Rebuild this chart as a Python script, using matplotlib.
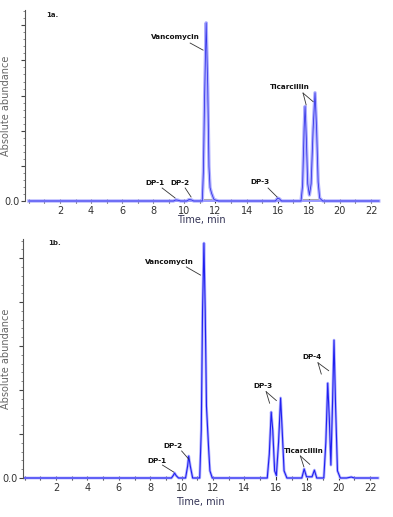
import matplotlib
matplotlib.use("Agg")
import matplotlib.pyplot as plt
from matplotlib.ticker import MultipleLocator, FixedLocator

# ---------------- data ----------------
# Panel 1a trace: time (min) and relative abundance
t_a = [0.0, 9.3, 9.45, 9.6, 9.75, 10.15, 10.3, 10.45, 10.6, 11.15, 11.22, 11.3,
       11.4, 11.5, 11.58, 11.65, 11.75, 11.9, 12.2, 15.85, 16.0, 16.1, 16.25,
       17.5, 17.6, 17.7, 17.76, 17.84, 17.93, 18.04, 18.15, 18.28, 18.4, 18.5,
       18.6, 18.7, 18.9, 22.5]
y_a = [0.0, 0.0, 0.006, 0.004, 0.0, 0.0, 0.008, 0.006, 0.0, 0.0, 0.15, 0.55,
       0.933, 0.6, 0.18, 0.07, 0.04, 0.008, 0.0, 0.0, 0.015, 0.012, 0.0,
       0.0, 0.08, 0.38, 0.495, 0.33, 0.09, 0.031, 0.09, 0.38, 0.567, 0.38,
       0.1, 0.015, 0.0, 0.0]

# Panel 1b trace
t_b = [0.0, 9.35, 9.48, 9.55, 9.65, 9.8, 10.25, 10.38, 10.45, 10.55, 10.7,
       11.15, 11.25, 11.33, 11.42, 11.5, 11.58, 11.65, 11.72, 11.8, 11.95,
       15.45, 15.58, 15.7, 15.8, 15.92, 16.03, 16.17, 16.3, 16.4, 16.52, 16.7,
       17.65, 17.8, 17.95, 18.3, 18.45, 18.6, 19.05, 19.18, 19.3, 19.4,
       19.5, 19.6, 19.7, 19.8, 19.92, 20.1, 20.5, 20.8, 21.0, 22.5]
y_b = [0.0, 0.0, 0.012, 0.021, 0.01, 0.0, 0.0, 0.05, 0.092, 0.05, 0.0,
       0.0, 0.2, 0.7, 0.983, 0.7, 0.3, 0.21, 0.12, 0.03, 0.0,
       0.0, 0.1, 0.276, 0.2, 0.03, 0.01, 0.15, 0.335, 0.2, 0.03, 0.0,
       0.0, 0.038, 0.005, 0.005, 0.033, 0.0, 0.0, 0.15, 0.397, 0.25,
       0.054, 0.3, 0.577, 0.3, 0.03, 0.0, 0.0, 0.004, 0.0, 0.0]

# integration baseline markers (panel 1a)
base_a = [(11.15, 11.95), (17.5, 18.8)]

x_major = [2, 4, 6, 8, 10, 12, 14, 16, 18, 20, 22]
x_labels = ["2", "4", "6", "8", "10", "12", "14", "16", "18", "20", "22"]

# annotations: (text, text_x, text_y, [(x0, y0, x1, y1), ...])
ann_a = [
    ("Vancomycin", 9.4, 0.86, [(10.37, 0.827, 11.2, 0.79)]),
    ("DP-1", 8.12, 0.094, [(8.57, 0.068, 9.4, 0.016)]),
    ("DP-2", 9.72, 0.094, [(10.05, 0.068, 10.43, 0.021)]),
    ("DP-3", 14.87, 0.099, [(15.38, 0.068, 15.96, 0.021)]),
    ("Ticarcillin", 16.8, 0.597, [(17.63, 0.565, 17.83, 0.503),
                                  (17.63, 0.565, 18.28, 0.52)]),
]
ann_b = [
    ("Vancomycin", 9.23, 0.904, [(10.3, 0.883, 11.2, 0.849)]),
    ("DP-1", 8.4, 0.071, [(8.78, 0.054, 9.49, 0.025)]),
    ("DP-2", 9.42, 0.134, [(10.0, 0.113, 10.45, 0.079)]),
    ("DP-3", 15.17, 0.386, [(15.38, 0.361, 15.6, 0.313),
                            (15.38, 0.361, 16.03, 0.324)]),
    ("Ticarcillin", 17.78, 0.114, [(17.56, 0.092, 17.78, 0.047),
                                   (17.56, 0.092, 18.16, 0.057)]),
    ("DP-4", 18.31, 0.508, [(18.68, 0.482, 18.89, 0.435),
                            (18.68, 0.482, 19.36, 0.449)]),
]

# ---------------- figure ----------------
W, H = 393, 517
fig = plt.figure(figsize=(W / 100, H / 100), dpi=100)
plt.rcParams['font.family'] = ['DejaVu Sans']


def px_axes(l, r, t, b):
    return fig.add_axes([l / W, 1 - b / H, (r - l) / W, (b - t) / H])


ax_a = px_axes(25, 378, 10, 201)
ax_b = px_axes(23, 378, 239, 478)


def style(ax, xlim, label, lab_pos, ylab_x, xlab_y):
    ax.set_xlim(*xlim)
    ax.set_ylim(0, 1.0)
    for s in ("top", "right", "bottom"):
        ax.spines[s].set_visible(False)
    ax.spines["left"].set_color("#555555")
    ax.spines["left"].set_linewidth(0.8)
    ax.xaxis.set_major_locator(FixedLocator(x_major))
    ax.set_xticklabels(x_labels)
    ax.xaxis.set_minor_locator(MultipleLocator(1))
    ax.tick_params(axis="x", which="both", direction="inout", length=2.5,
                   width=0.8, color="#333333", labelsize=7, labelcolor="#333333", pad=2)
    ax.yaxis.set_major_locator(MultipleLocator(0.184))
    ax.yaxis.set_minor_locator(MultipleLocator(0.0368))
    ax.tick_params(axis="y", which="major", direction="out", length=3, width=0.8,
                   color="#444444", labelsize=7, labelcolor="#333333", pad=1)
    ax.tick_params(axis="y", which="minor", direction="out", length=1.8, width=0.6,
                   color="#777777")
    ax.yaxis.set_major_formatter(plt.FuncFormatter(lambda v, p: "0.0" if abs(v) < 1e-9 else ""))
    ax.set_xlabel("Time, min", fontsize=7, color="#333355")
    ax.set_ylabel("Absolute abundance", fontsize=7, color="#666666")
    ax.yaxis.set_label_coords(ylab_x, 0.5)
    ax.xaxis.set_label_coords(0.5, xlab_y)
    ax.text(lab_pos[0], lab_pos[1], label,
            transform=ax.transAxes, fontsize=5, fontweight="bold",
            color="#222222", va="center", ha="left")


style(ax_a, (-0.25, 22.45), "1a.", (0.06, 0.975), -0.040, -0.074)
style(ax_b, (-0.1, 22.5), "1b.", (0.07, 0.985), -0.034, -0.078)

# traces
for x0, x1 in base_a:
    ax_a.plot([x0, x1], [0.004, 0.004], color="#aaaaaa", lw=2.2, zorder=1,
              solid_capstyle="butt")
ax_a.plot(t_a, y_a, color="#b0b0ff", lw=2.4, zorder=2, clip_on=False)
ax_a.plot(t_a, y_a, color="#3535e8", lw=0.6, zorder=3, clip_on=False)
ax_a.plot([t_a[0], t_a[-1]], [0, 0], color="#9a9aff", lw=1.4, zorder=2, clip_on=False)

ax_b.plot(t_b, y_b, color="#b4b4ff", lw=2.0, zorder=2, clip_on=False)
ax_b.plot(t_b, y_b, color="#2020f0", lw=0.8, zorder=3, clip_on=False)


def annotate(ax, anns):
    for txt, tx, ty, lines in anns:
        ax.text(tx, ty, txt, fontsize=5.2, fontweight="bold", color="#111111",
                ha="center", va="center", zorder=5)
        for x0, y0, x1, y1 in lines:
            ax.plot([x0, x1], [y0, y1], color="#333333", lw=0.6, zorder=4)


annotate(ax_a, ann_a)
annotate(ax_b, ann_b)

fig.savefig("out.png", dpi=100)
